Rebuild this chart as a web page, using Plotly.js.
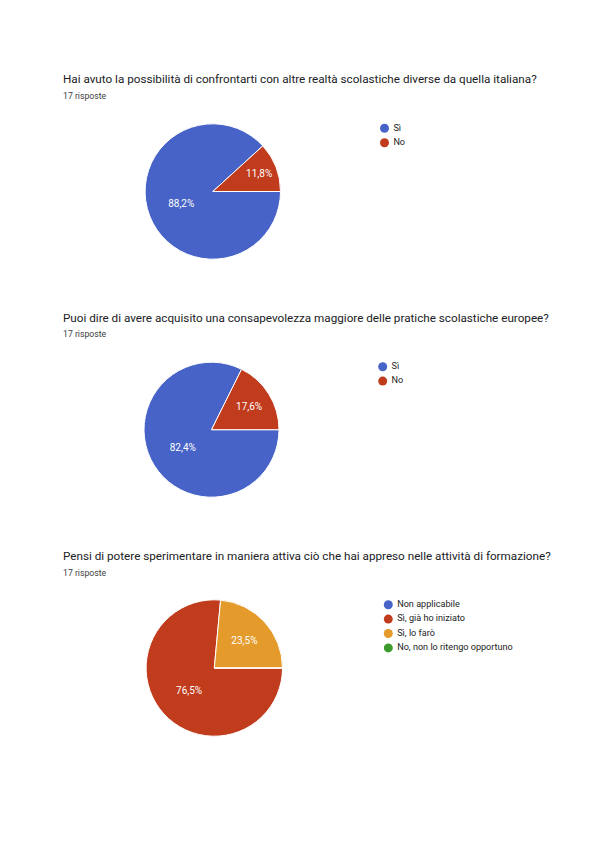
<!DOCTYPE html>
<html><head><meta charset="utf-8">
<script src="https://cdn.plot.ly/plotly-3.0.1.min.js"></script>
<style>html,body{margin:0;padding:0;background:#fff}</style>
</head><body><div id="chart" style="width:596px;height:842px"></div>
<script>
// Data
const titles = [
  "Hai avuto la possibilità di confrontarti con altre realtà scolastiche diverse da quella italiana?",
  "Puoi dire di avere acquisito una consapevolezza maggiore delle pratiche scolastiche europee?",
  "Pensi di potere sperimentare in maniera attiva ciò che hai appreso nelle attività di formazione?"
];
const subtitles = ["17 risposte", "17 risposte", "17 risposte"];
const labels1 = ["Sì", "No"];
const values1 = [15, 2];
const labels2 = ["Sì", "No"];
const values2 = [14, 3];
const labels3 = ["Non applicabile", "Sì, già ho iniziato", "Sì, lo farò", "No, non lo ritengo opportuno"];
const values3 = [0, 13, 4, 0];
const colors = ["#4763c7", "#c13b1d", "#e59b2c", "#3d9a2c"];

const W = 596, H = 842;
const px = x => x / W, py = y => 1 - y / H;
const FONT = "Roboto, Arial, sans-serif";

function pieTrace(labels, values, cx, cy, r) {
  return {
    type: "pie", labels: labels, values: values, sort: false,
    direction: "clockwise", rotation: 90,
    domain: {x: [px(cx - r), px(cx + r)], y: [py(cy + r), py(cy - r)]},
    marker: {colors: colors.slice(0, labels.length), line: {color: "#ffffff", width: 1}},
    textinfo: "percent", texttemplate: "%{percent:.1%}",
    textposition: "inside", insidetextorientation: "horizontal",
    textfont: {family: FONT, size: 10, color: "#ffffff"},
    showlegend: false, hoverinfo: "label+percent"
  };
}

// legend drawn as a marker+text scatter on its own hidden axes (one row per category)
const GAP = 14.4;
function legendTrace(labels, n, dotX, firstY) {
  const k = labels.length;
  return {
    trace: {
      type: "scatter", mode: "markers+text",
      x: labels.map(() => 0), y: labels.map((_, i) => i),
      text: labels, texttemplate: "\u00a0%{text}", textposition: "middle right",
      textfont: {family: FONT, size: 9.1, color: "#222222"},
      marker: {symbol: "circle", size: 9, color: colors.slice(0, k)},
      xaxis: "x" + n, yaxis: "y" + n, cliponaxis: false,
      showlegend: false, hoverinfo: "skip"
    },
    xaxis: {domain: [px(dotX), px(dotX + 150)], range: [0, 1], visible: false, fixedrange: true},
    yaxis: {domain: [py(firstY + (k - 0.5) * GAP), py(firstY - 0.5 * GAP)],
            range: [k - 0.5, -0.5], visible: false, fixedrange: true}
  };
}

const L1 = legendTrace(labels1, 2, 384.5, 128.3);
const L2 = legendTrace(labels2, 3, 382.7, 366.7);
const L3 = legendTrace(labels3, 4, 388.3, 604.7);

const data = [
  pieTrace(labels1, values1, 212.8, 191.5, 67.7),
  pieTrace(labels2, values2, 211.5, 429.7, 67.5),
  pieTrace(labels3, values3, 214.3, 668, 68.2),
  L1.trace, L2.trace, L3.trace
];

const tY = [78.5, 317.5, 556], sY = [96, 334, 573];
const annotations = [];
titles.forEach((t, i) => {
  annotations.push({text: t, x: px(61), y: py(tY[i]), xref: "paper", yref: "paper",
    xanchor: "left", yanchor: "middle", showarrow: false,
    font: {family: FONT, size: 11.7, color: "#202124"}});
  annotations.push({text: subtitles[i], x: px(61), y: py(sY[i]), xref: "paper", yref: "paper",
    xanchor: "left", yanchor: "middle", showarrow: false,
    font: {family: FONT, size: 8.7, color: "#3c4043"}});
});

const layout = {
  width: W, height: H, margin: {l: 0, r: 0, t: 0, b: 0},
  paper_bgcolor: "#ffffff", plot_bgcolor: "rgba(0,0,0,0)",
  separators: ",.", showlegend: false,
  xaxis: {visible: false}, yaxis: {visible: false},
  xaxis2: L1.xaxis, yaxis2: L1.yaxis,
  xaxis3: L2.xaxis, yaxis3: L2.yaxis,
  xaxis4: L3.xaxis, yaxis4: L3.yaxis,
  annotations: annotations
};

Plotly.newPlot("chart", data, layout, {displayModeBar: false, staticPlot: true});
</script>
</body></html>
